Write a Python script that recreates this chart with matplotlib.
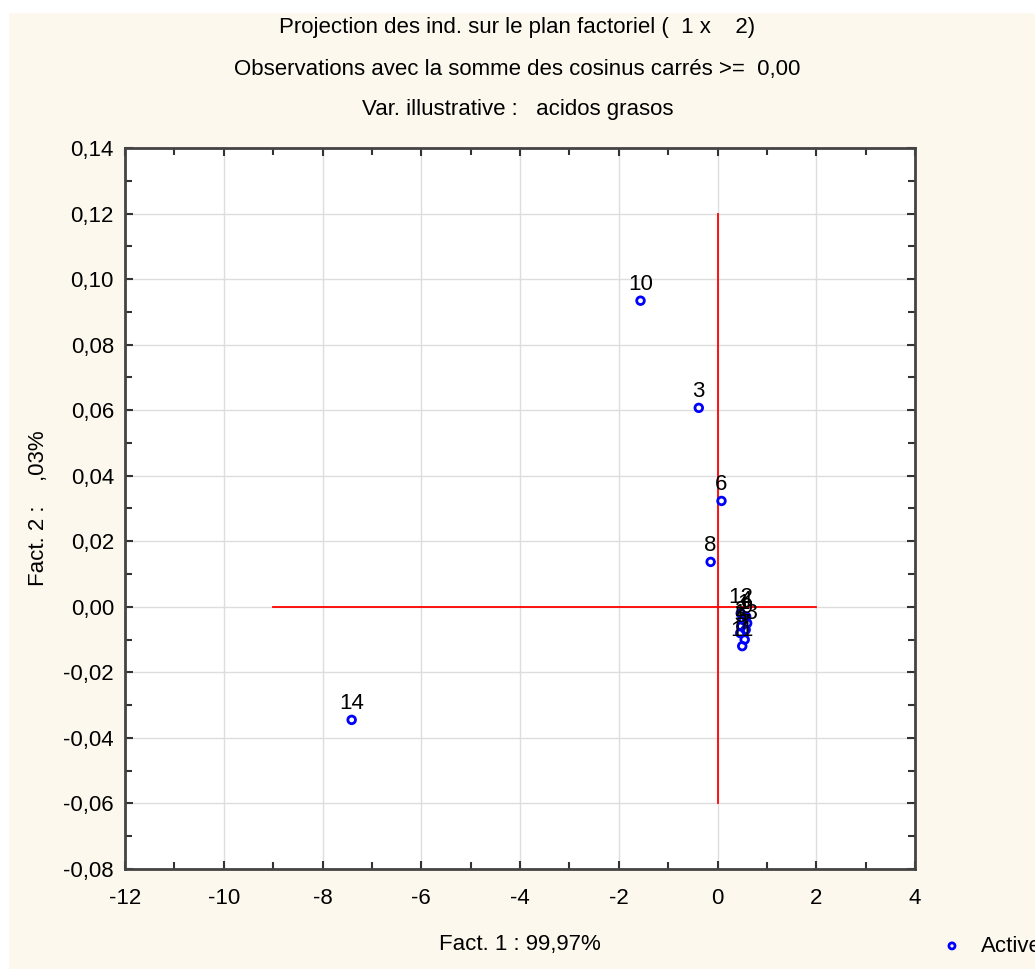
import matplotlib.pyplot as plt
from matplotlib.ticker import MultipleLocator, FuncFormatter
from matplotlib.patches import Rectangle

plt.rcParams['font.family'] = ['Liberation Sans Narrow', 'Liberation Sans', 'DejaVu Sans']

# coordonnees des individus (Fact. 1, Fact. 2)
labels = ['1', '2', '3', '4', '5', '6', '7', '8', '9', '10', '11', '12', '13', '14']
fact1 = [0.52, 0.48, -0.38, 0.58, 0.46, 0.08, 0.55, -0.14, 0.60, -1.56, 0.50, 0.47, 0.57, -7.41]
fact2 = [-0.004, -0.006, 0.0607, -0.003, -0.008, 0.0323, -0.010, 0.0137, -0.005, 0.0934, -0.012, -0.002, -0.007, -0.0345]

bg = '#fdf8ee'
fig = plt.figure(figsize=(10.35, 9.69), dpi=100, facecolor=bg)
fig.patches.append(Rectangle((0, 0), 0.008, 1, transform=fig.transFigure, color='white', zorder=-1))
fig.patches.append(Rectangle((0, 0.988), 1, 0.012, transform=fig.transFigure, color='white', zorder=-1))

ax = fig.add_axes([0.1208, 0.1032, 0.7633, 0.7441])
ax.set_facecolor('white')

ax.set_xlim(-12, 4)
ax.set_ylim(-0.08, 0.14)
ax.xaxis.set_major_locator(MultipleLocator(2))
ax.xaxis.set_minor_locator(MultipleLocator(1))
ax.yaxis.set_major_locator(MultipleLocator(0.02))
ax.yaxis.set_minor_locator(MultipleLocator(0.01))
ax.xaxis.set_major_formatter(FuncFormatter(lambda v, p: '0' if abs(v) < 1e-9 else f'{v:.0f}'))
ax.yaxis.set_major_formatter(FuncFormatter(lambda v, p: f'{v:.2f}'.replace('.', ',') if abs(v) > 1e-9 else '0,00'))
ax.grid(True, which='major', color='#dddddd', linewidth=1)
ax.set_axisbelow(True)
ax.tick_params(which='both', direction='in', top=True, right=True, labelsize=16, colors='#333333', labelcolor='black')
ax.tick_params(which='major', length=6, width=1.5)
ax.tick_params(which='minor', length=5, width=1.5)
ax.tick_params(axis='x', pad=14)
ax.tick_params(axis='y', pad=8)
for s in ax.spines.values():
    s.set_linewidth(2)
    s.set_color('#444444')

# axes rouges
ax.plot([-9, 2], [0, 0], color='red', linewidth=1.3, zorder=2)
ax.plot([0, 0], [-0.06, 0.12], color='red', linewidth=1.3, zorder=2)

ax.scatter(fact1, fact2, s=30, facecolors='none', edgecolors='blue', linewidths=2, marker='o', zorder=3, label='Active')
for lab, x, y in zip(labels, fact1, fact2):
    ax.annotate(lab, (x, y), xytext=(0, 4), textcoords='offset points', ha='center', va='bottom', fontsize=16, color='black', zorder=4)

fig.text(0.5, 0.972, 'Projection des ind. sur le plan factoriel (  1 x    2)', ha='center', va='center', fontsize=16)
fig.text(0.5, 0.928, 'Observations avec la somme des cosinus carrés >=  0,00', ha='center', va='center', fontsize=16)
fig.text(0.5, 0.887, 'Var. illustrative :   acidos grasos', ha='center', va='center', fontsize=16)

ax.set_xlabel('Fact. 1 : 99,97%', fontsize=16, labelpad=18)
ax.set_ylabel('Fact. 2 :    ,03%', fontsize=16, labelpad=10)

fig.legend(loc='lower left', bbox_to_anchor=(0.879, -0.008), frameon=False, fontsize=16, handletextpad=0.3, markerscale=0.8)

plt.savefig('out.png', dpi=100, facecolor=bg)
